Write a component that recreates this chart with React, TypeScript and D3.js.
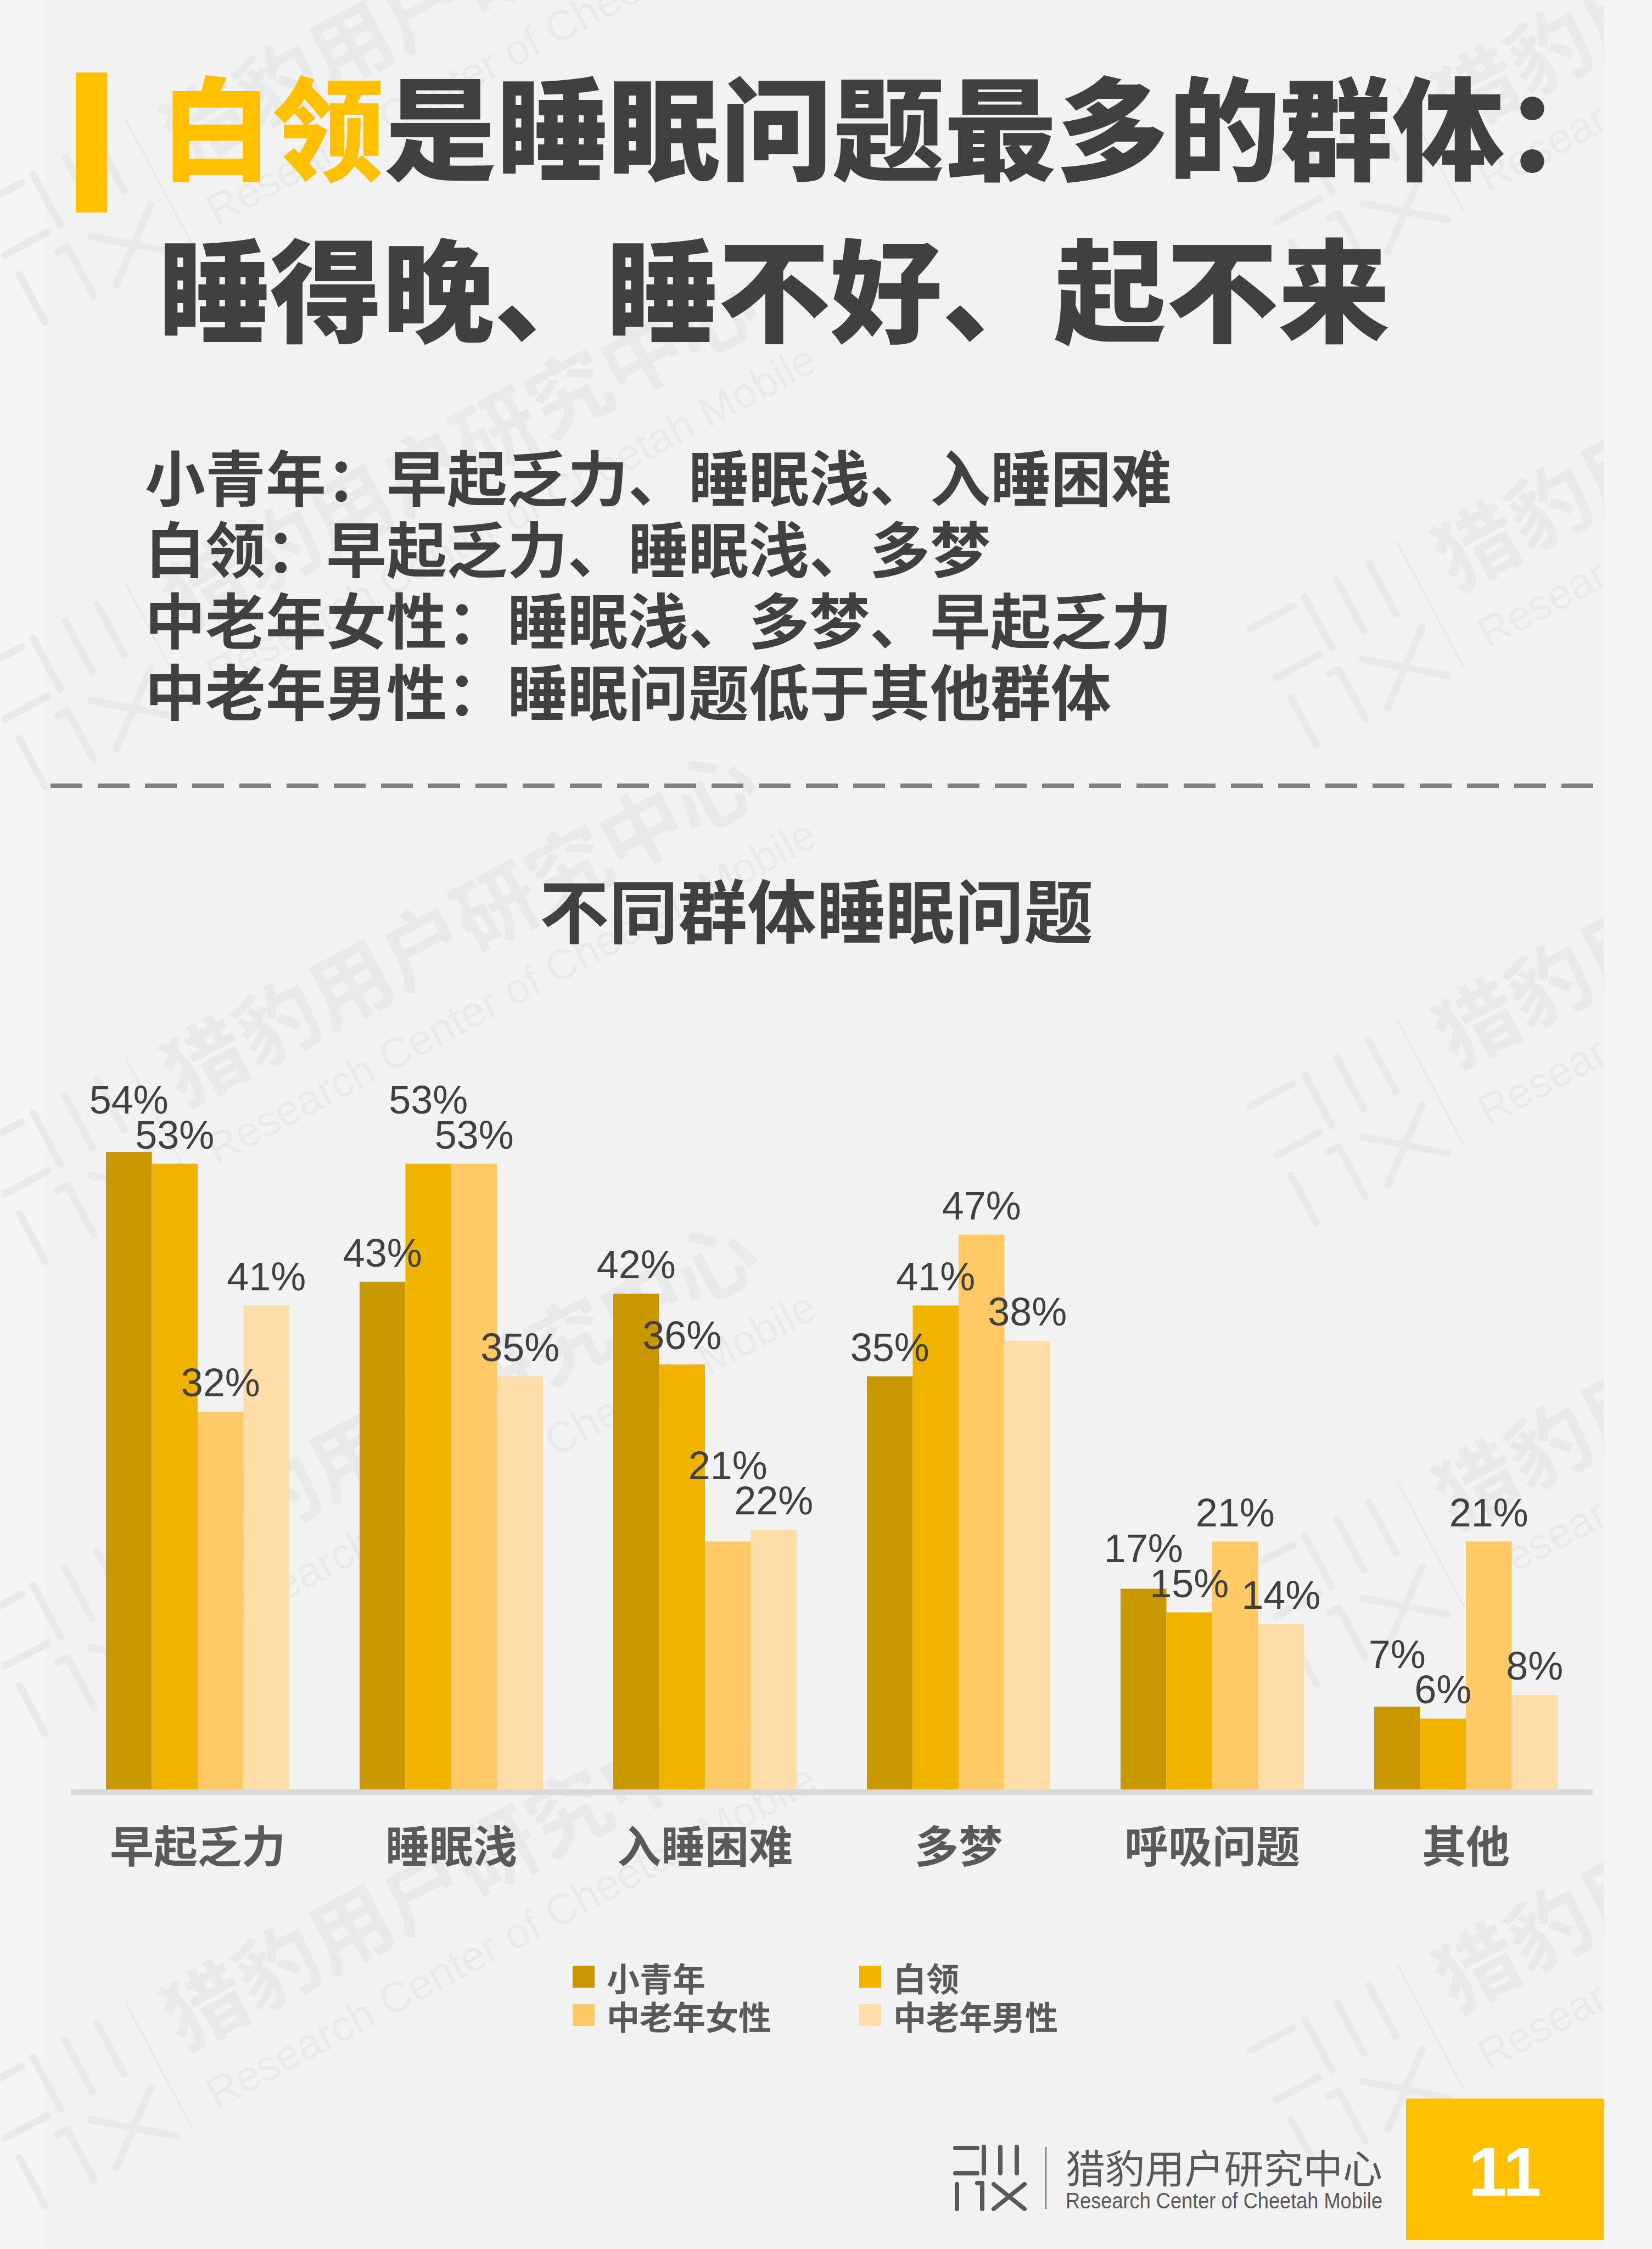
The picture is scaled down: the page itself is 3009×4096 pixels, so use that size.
import React from 'react';
import * as d3 from 'd3';

const categories = ['早起乏力', '睡眠浅', '入睡困难', '多梦', '呼吸问题', '其他'];
const seriesNames = ['小青年', '白领', '中老年女性', '中老年男性'];
const youth = [54, 43, 42, 35, 17, 7];
const whiteCollar = [53, 53, 36, 41, 15, 6];
const midFemale = [32, 53, 21, 47, 21, 21];
const midMale = [41, 35, 22, 38, 14, 8];
const seriesValues = [youth, whiteCollar, midFemale, midMale];
const seriesColors = ['#C99700', '#F0B400', '#FFC966', '#FFDDA8'];

const titleHighlight = '白领';
const titleRest = '是睡眠问题最多的群体：';
const titleLine2 = '睡得晚、睡不好、起不来';
const subtitleLines = [
  '小青年：早起乏力、睡眠浅、入睡困难',
  '白领：早起乏力、睡眠浅、多梦',
  '中老年女性：睡眠浅、多梦、早起乏力',
  '中老年男性：睡眠问题低于其他群体',
];
const chartTitle = '不同群体睡眠问题';
const pageNumber = '11';
const brandCn = '猎豹用户研究中心';
const brandEn = 'Research Center of Cheetah Mobile';

const W = 3009;
const H = 4096;
const CJK = '"Noto Sans CJK SC", "Noto Sans", sans-serif';
const LATIN = '"Liberation Sans", Arial, sans-serif';
const DARK = '#404040';

const wmLeft = [[144, 420], [144, 1265], [144, 2130], [144, 2990], [144, 3850]];
const wmRight = [[2460, 360], [2460, 1190], [2460, 2060], [2460, 2900], [2460, 3780]];

function LogoMark({ color, sw }: { color: string; sw: number }) {
  return (
    <g stroke={color} strokeWidth={sw} strokeLinecap="round" fill="none">
      <line x1={0} y1={2} x2={40} y2={2} />
      <line x1={0} y1={48} x2={40} y2={48} />
      <line x1={52} y1={0} x2={52} y2={48} />
      <line x1={82} y1={0} x2={82} y2={48} />
      <line x1={112} y1={0} x2={112} y2={48} />
      <line x1={3} y1={68} x2={3} y2={113} />
      <line x1={49} y1={68} x2={49} y2={113} />
      <line x1={40} y1={66} x2={49} y2={66} />
      <line x1={70} y1={68} x2={126} y2={113} />
      <line x1={126} y1={68} x2={70} y2={113} />
    </g>
  );
}

function Watermark({ x, y }: { x: number; y: number }) {
  const c = '#e9e9e9';
  return (
    <g transform={`translate(${x},${y}) rotate(-28)`}>
      <g transform="translate(-140,-130) scale(2.2)">
        <LogoMark color={c} sw={6} />
      </g>
      <line x1={170} y1={-140} x2={170} y2={120} stroke={c} strokeWidth={4} />
      <text x={220} y={-10} fontFamily={CJK} fontWeight={700} fontSize={150} fill={c}>
        {brandCn}
      </text>
      <text x={225} y={110} fontFamily={LATIN} fontSize={78} fill={c}>
        {brandEn}
      </text>
    </g>
  );
}

export default function App() {
  const x0 = d3
    .scaleBand<string>()
    .domain(categories)
    .range([129, 2901])
    .paddingInner(0.277)
    .paddingOuter(0.1385);
  const x1 = d3.scaleBand<string>().domain(seriesNames).range([0, x0.bandwidth()]).padding(0);
  const baseY = 3259;
  const y = d3.scaleLinear().domain([0, 100]).range([baseY, baseY - 2150]);

  // Value labels: placed above bars (right to left), pushed upward when they collide
  const labelW = 128;
  const labelH = 60;
  const labels: { key: string; x: number; y: number; text: string }[] = [];
  categories.forEach((cat, ci) => {
    const placed: { x: number; y: number }[] = [];
    seriesNames
      .map((sn, si) => ({ sn, si }))
      .reverse()
      .forEach(({ sn, si }) => {
        const v = seriesValues[si][ci];
        const cx = (x0(cat) as number) + (x1(sn) as number) + x1.bandwidth() / 2;
        let ly = y(v) - 28;
        let moved = true;
        while (moved) {
          moved = false;
          for (const p of placed) {
            if (Math.abs(p.x - cx) < labelW && Math.abs(p.y - ly) < labelH) {
              ly = p.y - labelH - 4;
              moved = true;
            }
          }
        }
        placed.push({ x: cx, y: ly });
        labels.push({ key: cat + sn, x: cx, y: ly, text: v + '%' });
      });
  });

  return (
    <svg
      width={W}
      height={H}
      viewBox={`0 0 ${W} ${H}`}
      style={{ position: 'absolute', left: 0, top: 0, display: 'block' }}
    >
      <defs>
        <clipPath id="panelClip">
          <rect x={0} y={0} width={2922} height={H} />
        </clipPath>
      </defs>
      <rect x={0} y={0} width={W} height={H} fill="#f5f5f5" />
      <rect x={83} y={0} width={2922 - 83} height={H} fill="#f2f2f2" />

      <g clipPath="url(#panelClip)">
        {wmLeft.map(([wx, wy], i) => (
          <Watermark key={'l' + i} x={wx} y={wy} />
        ))}
        {wmRight.map(([wx, wy], i) => (
          <Watermark key={'r' + i} x={wx} y={wy} />
        ))}
      </g>

      {/* Title */}
      <rect x={138} y={132} width={57} height={255} fill="#FFC000" />
      <text
        x={292}
        y={224}
        dominantBaseline="central"
        fontFamily={CJK}
        fontWeight={900}
        fontSize={204}
        fill={DARK}
      >
        <tspan fill="#FFC000">{titleHighlight}</tspan>
        <tspan>{titleRest}</tspan>
      </text>
      <text
        x={288}
        y={519}
        dominantBaseline="central"
        fontFamily={CJK}
        fontWeight={900}
        fontSize={204}
        fill={DARK}
      >
        {titleLine2}
      </text>

      {/* Subtitles */}
      {subtitleLines.map((s, i) => (
        <text
          key={i}
          x={264}
          y={865 + i * 130}
          dominantBaseline="central"
          fontFamily={CJK}
          fontWeight={700}
          fontSize={110}
          fill={DARK}
        >
          {s}
        </text>
      ))}

      <line x1={92} y1={1431} x2={2917} y2={1431} stroke="#7f7f7f" strokeWidth={8} strokeDasharray="58 28" />

      {/* Chart title */}
      <text
        x={1487}
        y={1653}
        textAnchor="middle"
        dominantBaseline="central"
        fontFamily={CJK}
        fontWeight={700}
        fontSize={126}
        fill={DARK}
      >
        {chartTitle}
      </text>

      {/* Bars */}
      {categories.map((cat, ci) => (
        <g key={cat} transform={`translate(${x0(cat)},0)`}>
          {seriesNames.map((sn, si) => {
            const v = seriesValues[si][ci];
            return (
              <rect
                key={sn}
                x={x1(sn)}
                y={y(v)}
                width={x1.bandwidth()}
                height={baseY - y(v)}
                fill={seriesColors[si]}
              />
            );
          })}
        </g>
      ))}

      {/* Labels */}
      {labels.map((l) => (
        <text
          key={l.key}
          x={l.x}
          y={l.y}
          textAnchor="middle"
          fontFamily={LATIN}
          fontSize={72}
          fill={DARK}
        >
          {l.text}
        </text>
      ))}

      {/* Axis line */}
      <rect x={129} y={baseY} width={2901 - 129} height={10} fill="#d9d9d9" />

      {/* Category labels */}
      {categories.map((cat) => (
        <text
          key={'c' + cat}
          x={(x0(cat) as number) + x0.bandwidth() / 2}
          y={3357}
          textAnchor="middle"
          dominantBaseline="central"
          fontFamily={CJK}
          fontWeight={700}
          fontSize={80}
          fill="#595959"
        >
          {cat}
        </text>
      ))}

      {/* Legend */}
      {seriesNames.map((sn, i) => {
        const col = i % 2;
        const row = Math.floor(i / 2);
        const lx = 1043 + col * 522;
        const ly = 3600 + row * 70;
        return (
          <g key={'lg' + sn}>
            <rect x={lx} y={ly - 20} width={40} height={40} fill={seriesColors[i]} />
            <text
              x={lx + 62}
              y={ly}
              dominantBaseline="central"
              fontFamily={CJK}
              fontWeight={700}
              fontSize={60}
              fill="#595959"
            >
              {sn}
            </text>
          </g>
        );
      })}

      {/* Footer */}
      <g transform="translate(1740,3910)">
        <LogoMark color="#595959" sw={8} />
      </g>
      <line x1={1905} y1={3910} x2={1905} y2={4023} stroke="#8a8a8a" strokeWidth={3} />
      <text
        x={1941}
        y={3944}
        dominantBaseline="central"
        fontFamily={CJK}
        fontSize={72}
        fill="#595959"
        textLength={577}
        lengthAdjust="spacingAndGlyphs"
      >
        {brandCn}
      </text>
      <text
        x={1941}
        y={4022}
        fontFamily={LATIN}
        fontSize={40}
        fill="#595959"
        textLength={577}
        lengthAdjust="spacingAndGlyphs"
      >
        {brandEn}
      </text>
      <rect x={2561} y={3822} width={360} height={258} fill="#FFC000" />
      <text
        x={2741}
        y={3955}
        textAnchor="middle"
        dominantBaseline="central"
        fontFamily={LATIN}
        fontWeight={700}
        fontSize={126}
        fill="#ffffff"
      >
        {pageNumber}
      </text>
    </svg>
  );
}
